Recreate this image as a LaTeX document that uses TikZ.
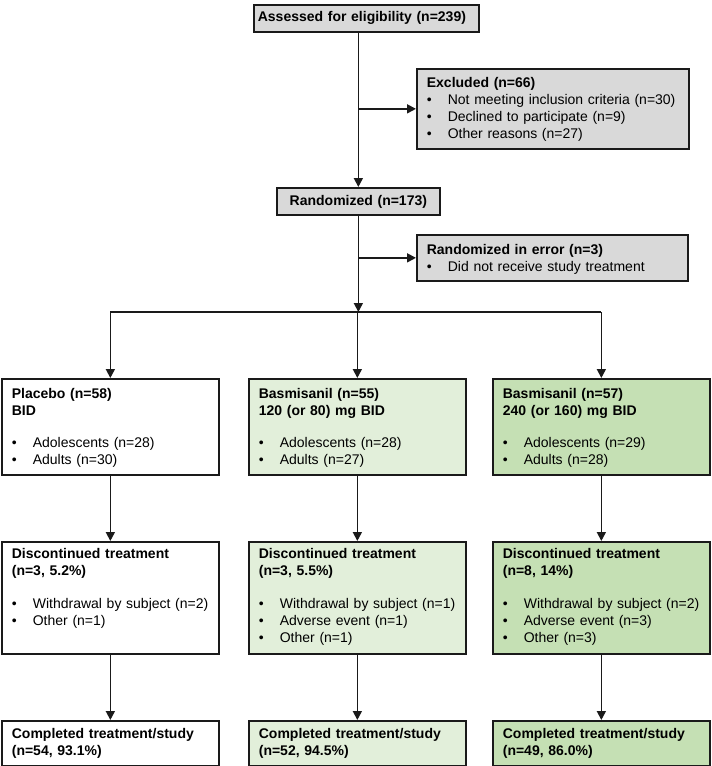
\documentclass[tikz,border=0pt]{standalone}
\usepackage{fontspec}
\setmainfont{Liberation Sans}
\usepackage[HTML]{xcolor}
\usetikzlibrary{positioning, arrows, arrows.meta}

\definecolor{boxgrey}{HTML}{D9D9D9}
\definecolor{lowgreen}{HTML}{E2EFDA}
\definecolor{highgreen}{HTML}{C5E0B4}
\newcommand{\itm}{\makebox[21pt][l]{\textbullet}}

\begin{document}
\begin{tikzpicture}[x=1pt, y=-1pt,
  flowbox/.style={draw=black!90, line width=1.7pt, anchor=north west, align=left,
    inner xsep=10pt, inner ysep=0pt, font=\fontsize{14}{17}\selectfont},
  armbox/.style={flowbox, text width=197pt, text height=20pt, text depth=76pt},
  dcbox/.style={flowbox, text width=197pt, text height=17pt, text depth=95pt},
  endbox/.style={flowbox, text width=197pt, text height=18pt, text depth=27pt},
  arr/.style={line width=1.7pt, draw=black!90, -{Triangle[length=9pt,width=9pt]}},
  link/.style={line width=1.7pt, draw=black!90}]
\useasboundingbox (0,0) rectangle (712,766);
% enrolment
\node[flowbox, fill=boxgrey, inner xsep=4pt, text width=217pt, text height=17pt, text depth=10pt] (assess) at (253,4) {\textbf{Assessed for eligibility (n=239)}};
\node[flowbox, fill=boxgrey, text width=252pt, text height=19pt, text depth=61pt] (excl) at (416,68)
  {\textbf{Excluded (n=66)}\\
   \itm Not meeting inclusion criteria (n=30)\\
   \itm Declined to participate (n=9)\\
   \itm Other reasons (n=27)};
\node[flowbox, fill=boxgrey, align=center, inner xsep=0pt, text width=163pt, text height=18pt, text depth=9pt] (rand) at (276,187) {\textbf{Randomized (n=173)}};
\node[flowbox, fill=boxgrey, text width=251pt, text height=20pt, text depth=26pt] (err) at (416,234)
  {\textbf{Randomized in error (n=3)}\\
   \itm Did not receive study treatment};
\coordinate (split) at (rand.south |- 0,312);
% treatment arms
\node[armbox, fill=white] (pla) at (1,378)
  {\textbf{Placebo (n=58)}\\ \textbf{BID}\\[15pt]
   \itm Adolescents (n=28)\\ \itm Adults (n=30)};
\node[armbox, fill=lowgreen] (lo) at (248,378)
  {\textbf{Basmisanil (n=55)}\\ \textbf{120 (or 80) mg BID}\\[15pt]
   \itm Adolescents (n=28)\\ \itm Adults (n=27)};
\node[armbox, fill=highgreen] (hi) at (492,378)
  {\textbf{Basmisanil (n=57)}\\ \textbf{240 (or 160) mg BID}\\[15pt]
   \itm Adolescents (n=29)\\ \itm Adults (n=28)};
% discontinuations
\node[dcbox, fill=white] (pla-dc) at (1,541)
  {\textbf{Discontinued treatment}\\ \textbf{(n=3, 5.2\%)}\\[16pt]
   \itm Withdrawal by subject (n=2)\\ \itm Other (n=1)};
\node[dcbox, fill=lowgreen] (lo-dc) at (248,541)
  {\textbf{Discontinued treatment}\\ \textbf{(n=3, 5.5\%)}\\[16pt]
   \itm Withdrawal by subject (n=1)\\ \itm Adverse event (n=1)\\ \itm Other (n=1)};
\node[dcbox, fill=highgreen] (hi-dc) at (492,541)
  {\textbf{Discontinued treatment}\\ \textbf{(n=8, 14\%)}\\[16pt]
   \itm Withdrawal by subject (n=2)\\ \itm Adverse event (n=3)\\ \itm Other (n=3)};
% completers
\node[endbox, fill=white] (pla-end) at (1,720)
  {\textbf{Completed treatment/study}\\ \textbf{(n=54, 93.1\%)}};
\node[endbox, fill=lowgreen] (lo-end) at (248,720)
  {\textbf{Completed treatment/study}\\ \textbf{(n=52, 94.5\%)}};
\node[endbox, fill=highgreen] (hi-end) at (492,720)
  {\textbf{Completed treatment/study}\\ \textbf{(n=49, 86.0\%)}};
% connectors
\draw[arr] (assess.south -| rand.north) -- (rand.north);
\draw[arr] (rand.north |- excl.west) -- (excl.west);
\draw[arr] (rand.south |- err.west) -- (err.west);
\draw[arr] (rand.south) -- (split);
\draw[link] (split -| pla.north) -- (split -| hi.north);
\foreach \b in {pla,lo,hi}{
  \draw[arr] (split -| \b.north) -- (\b.north);
  \draw[arr] (\b.south) -- (\b-dc.north);
  \draw[arr] (\b-dc.south) -- (\b-end.north);
}
\end{tikzpicture}
\end{document}
